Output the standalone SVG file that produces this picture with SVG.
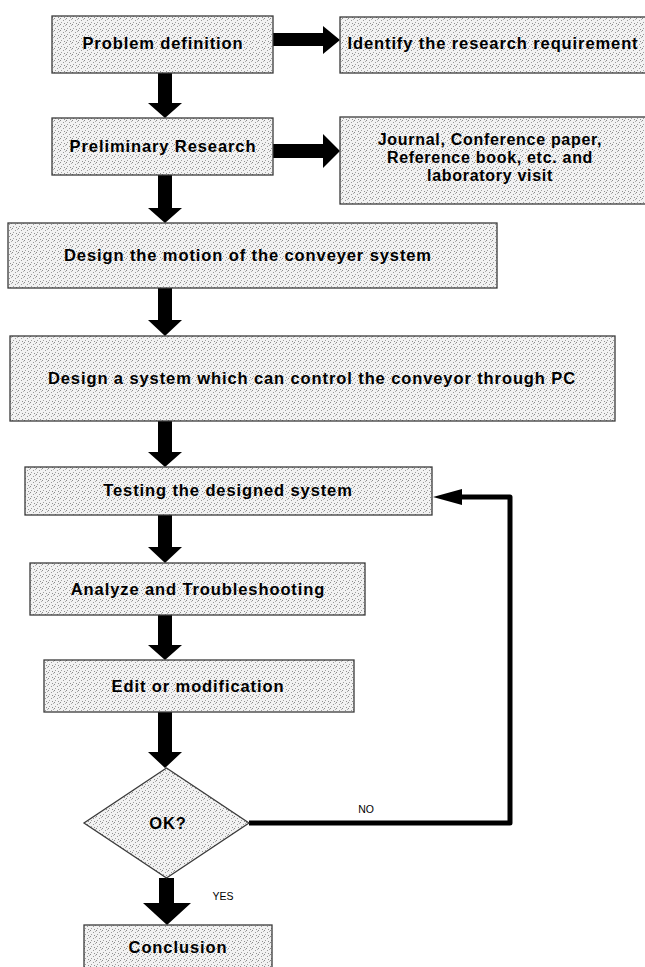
<svg xmlns="http://www.w3.org/2000/svg" width="645" height="967" viewBox="0 0 645 967">
  <defs>
    <pattern id="dots" width="6" height="6" patternUnits="userSpaceOnUse">
      <rect width="6" height="6" fill="#f2f2f2"/>
      <rect x="0" y="0" width="1" height="1" fill="#8a8a8a"/>
      <rect x="3" y="2" width="1" height="1" fill="#9a9a9a"/>
      <rect x="1" y="4" width="1" height="1" fill="#a0a0a0"/>
      <rect x="4" y="5" width="1" height="1" fill="#8f8f8f"/>
      <rect x="5" y="1" width="1" height="1" fill="#b0b0b0"/>
    </pattern>
  </defs>
  <style>
    .box { fill: url(#dots); stroke: #3a3a3a; stroke-width: 1.3; }
    .lbl { font-family: "Liberation Sans", Arial, sans-serif; font-weight: bold; font-size: 16.5px; letter-spacing: 0.9px; fill: #000; text-anchor: middle; dominant-baseline: central; }
    .jl { font-size: 16px; letter-spacing: 0.7px; }
    .small { font-family: "Liberation Sans", Arial, sans-serif; font-size: 10.5px; fill: #000; text-anchor: middle; dominant-baseline: central; }
    .arrow { fill: #000; stroke: none; }
    .line { fill: none; stroke: #000; stroke-width: 5; stroke-linejoin: round; }
  </style>
  <rect width="645" height="967" fill="#fff"/>

  <g id="connectors">
    <!-- Problem -> Identify -->
    <polygon class="arrow" points="273,33 323,33 323,26 340,40 323,54 323,46 273,46"/>
    <!-- Preliminary -> Journal -->
    <polygon class="arrow" points="273,144 323,144 323,134 340,151 323,168 323,158 273,158"/>
    <!-- vertical arrows -->
    <polygon class="arrow" points="158,73 172,73 172,103 182,103 165,118 148,103 158,103"/>
    <polygon class="arrow" points="158,175 172,175 172,208 182,208 165,223 148,208 158,208"/>
    <polygon class="arrow" points="158,288 172,288 172,320 182,320 165,336 148,320 158,320"/>
    <polygon class="arrow" points="158,421 172,421 172,452 182,452 165,467 148,452 158,452"/>
    <polygon class="arrow" points="158,515 172,515 172,547 182,547 165,563 148,547 158,547"/>
    <polygon class="arrow" points="158,615 172,615 172,645 182,645 165,660 148,645 158,645"/>
    <polygon class="arrow" points="158,712 172,712 172,752 182,752 165,768 148,752 158,752"/>
    <!-- YES -->
    <polygon class="arrow" points="159,878 174,878 174,903 191,903 167,925 143,903 159,903"/>
    <!-- NO feedback -->
    <polyline class="line" points="249,823 510,823 510,497 460,497"/>
    <polygon class="arrow" points="462,489 462,505 433,497"/>
    <text class="small" x="366" y="809">NO</text>
    <text class="small" x="223" y="896">YES</text>
  </g>

  <g id="problem-definition">
    <rect class="box" x="52" y="16" width="221" height="57"/>
    <text class="lbl" x="163" y="43">Problem definition</text>
  </g>
  <g id="identify">
    <rect class="box" x="340" y="17" width="312" height="56"/>
    <text class="lbl" x="493" y="43">Identify the research requirement</text>
  </g>
  <g id="preliminary-research">
    <rect class="box" x="52" y="118" width="221" height="57"/>
    <text class="lbl" x="163" y="146">Preliminary Research</text>
  </g>
  <g id="journal">
    <rect class="box" x="340" y="117" width="312" height="87"/>
    <text class="lbl jl" x="490" y="139">Journal, Conference paper,</text>
    <text class="lbl jl" x="490" y="157">Reference book, etc. and</text>
    <text class="lbl jl" x="490" y="175">laboratory visit</text>
  </g>
  <g id="design-motion">
    <rect class="box" x="8" y="223" width="489" height="65"/>
    <text class="lbl" x="248" y="255">Design the motion of the conveyer system</text>
  </g>
  <g id="design-system">
    <rect class="box" x="10" y="336" width="605" height="85"/>
    <text class="lbl" x="312" y="378">Design a system which can control the conveyor through PC</text>
  </g>
  <g id="testing">
    <rect class="box" x="25" y="467" width="407" height="48"/>
    <text class="lbl" x="228" y="490">Testing the designed system</text>
  </g>
  <g id="analyze">
    <rect class="box" x="30" y="563" width="335" height="52"/>
    <text class="lbl" x="198" y="589">Analyze and Troubleshooting</text>
  </g>
  <g id="edit">
    <rect class="box" x="44" y="660" width="310" height="52"/>
    <text class="lbl" x="198" y="686">Edit or modification</text>
  </g>
  <g id="ok">
    <polygon class="box" points="166.5,768 249,823 166.5,878 84,823" stroke-width="1"/>
    <text class="lbl" x="168" y="823">OK?</text>
  </g>
  <g id="conclusion">
    <rect class="box" x="84" y="925" width="188" height="50"/>
    <text class="lbl" x="178" y="947">Conclusion</text>
  </g>
</svg>
